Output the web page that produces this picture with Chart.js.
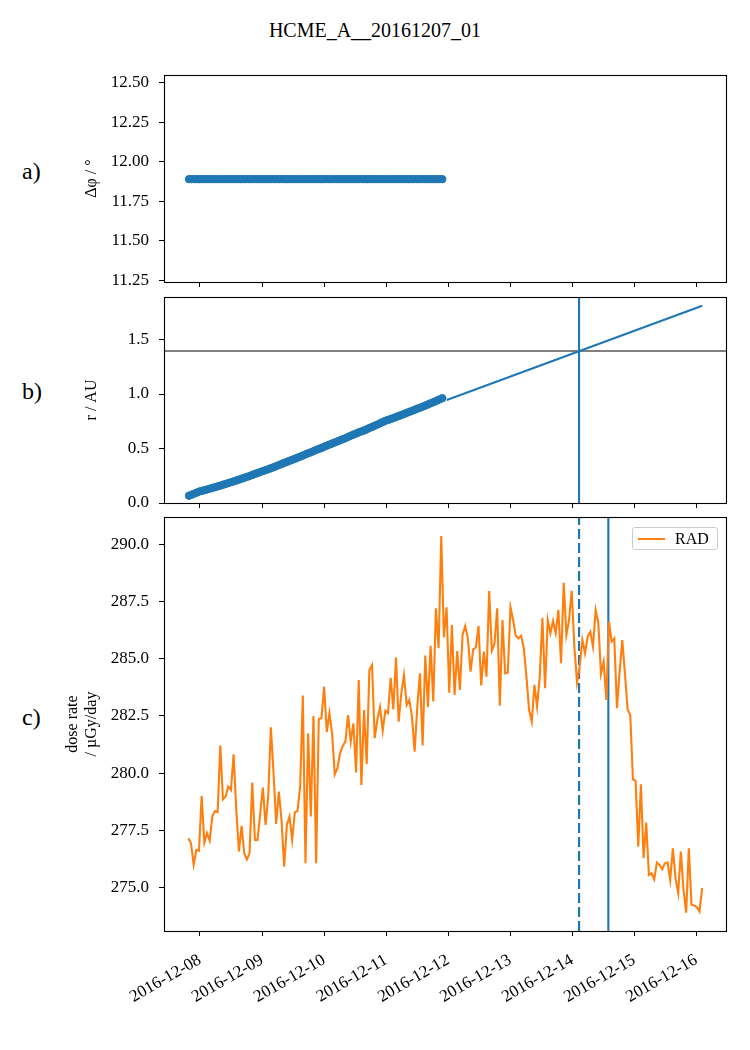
<!DOCTYPE html>
<html>
<head>
<meta charset="utf-8">
<script src="https://cdn.jsdelivr.net/npm/chart.js@4.4.1/dist/chart.umd.min.js"></script>
<style>
body { margin: 0; background: #fff; }
#fig { position: relative; width: 750px; height: 1050px; background: #fff; font-family: 'Liberation Serif', serif; color: #000; overflow: hidden; }
#fig canvas { position: absolute; left: 0; }
.title { position: absolute; left: 0; top: 18px; width: 750px; text-align: center; font-size: 20px; line-height: 24px; }
.plabel { position: absolute; left: 22px; font-size: 24px; line-height: 24px; }
#legend { position: absolute; left: 632px; top: 527px; width: 84px; height: 21px; border: 1px solid #cccccc; border-radius: 3px; background: rgba(255,255,255,0.8); font-size: 16px; }
#legend .swatch { position: absolute; left: 5px; top: 10px; width: 27px; height: 2px; }
#legend .txt { position: absolute; left: 42px; top: 1px; line-height: 19px; }
</style>
</head>
<body>
<div id="fig">
  <div class="title">HCME_A__20161207_01</div>
  <div class="plabel" style="top:159px">a)</div>
  <div class="plabel" style="top:379px">b)</div>
  <div class="plabel" style="top:705px">c)</div>
  <canvas id="chartA" width="750" height="249" style="top:54px"></canvas>
  <canvas id="chartB" width="750" height="248" style="top:276px"></canvas>
  <canvas id="chartC" width="750" height="554" style="top:496px"></canvas>
  <div id="legend"></div>
</div>
<script>
// time axis: days since 2016-12-08 00:00 UTC
var dayTicks = [0, 1, 2, 3, 4, 5, 6, 7, 8];
var tickLabels = ["2016-12-08", "2016-12-09", "2016-12-10", "2016-12-11", "2016-12-12",
                  "2016-12-13", "2016-12-14", "2016-12-15", "2016-12-16"];
var xMin = -0.58, xMax = 8.48;

// panel a / b: tracked CME front, one point every hour
var pointStart = "2016-12-07T19:45";
var pointStepHours = 1;
var dphi = [11.89, 11.89, 11.89, 11.89, 11.89, 11.89, 11.89, 11.89, 11.89, 11.89,
            11.89, 11.89, 11.89, 11.89, 11.89, 11.89, 11.89, 11.89, 11.89, 11.89,
            11.89, 11.89, 11.89, 11.89, 11.89, 11.89, 11.89, 11.89, 11.89, 11.89,
            11.89, 11.89, 11.89, 11.89, 11.89, 11.89, 11.89, 11.89, 11.89, 11.89,
            11.89, 11.89, 11.89, 11.89, 11.89, 11.89, 11.89, 11.89, 11.89, 11.89,
            11.89, 11.89, 11.89, 11.89, 11.89, 11.89, 11.89, 11.89, 11.89, 11.89,
            11.89, 11.89, 11.89, 11.89, 11.89, 11.89, 11.89, 11.89, 11.89, 11.89,
            11.89, 11.89, 11.89, 11.89, 11.89, 11.89, 11.89, 11.89, 11.89, 11.89,
            11.89, 11.89, 11.89, 11.89, 11.89, 11.89, 11.89, 11.89, 11.89, 11.89,
            11.89, 11.89, 11.89, 11.89, 11.89, 11.89, 11.89, 11.89, 11.89];
var rAU = [0.067, 0.076, 0.086, 0.095, 0.105, 0.111, 0.118, 0.124, 0.131, 0.138,
           0.145, 0.152, 0.159, 0.166, 0.174, 0.181, 0.189, 0.196, 0.204, 0.212,
           0.220, 0.228, 0.236, 0.244, 0.253, 0.262, 0.271, 0.279, 0.288, 0.296,
           0.304, 0.313, 0.322, 0.331, 0.341, 0.350, 0.360, 0.369, 0.378, 0.388,
           0.397, 0.406, 0.416, 0.425, 0.435, 0.445, 0.455, 0.464, 0.474, 0.484,
           0.494, 0.503, 0.513, 0.523, 0.533, 0.542, 0.552, 0.561, 0.571, 0.580,
           0.590, 0.600, 0.611, 0.621, 0.631, 0.641, 0.651, 0.659, 0.668, 0.679,
           0.690, 0.700, 0.710, 0.721, 0.732, 0.743, 0.754, 0.762, 0.770, 0.779,
           0.788, 0.797, 0.806, 0.815, 0.825, 0.834, 0.843, 0.852, 0.862, 0.871,
           0.880, 0.890, 0.900, 0.910, 0.920, 0.930, 0.940, 0.951, 0.962];
var aTicks = [11.25, 11.50, 11.75, 12.00, 12.25, 12.50];
var bTicks = [0.0, 0.5, 1.0, 1.5];

// extrapolated front and target distance
var fitTimes = ["2016-12-11T23:30", "2016-12-16T02:20"];
var fitR = [0.945, 1.81];
var targetR = 1.395;
var predictedArrival = "2016-12-14T02:40";
var observedArrival = "2016-12-14T14:00";

// panel c: RAD dose rate
var radStart = "2016-12-07T19:30";
var radStepHours = 1.03;
var radDose = [
  277.16, 276.94, 276.00, 276.65, 276.62, 279.01, 276.97, 277.38, 277.06, 278.11,
  278.35, 278.30, 281.21, 278.86, 278.98, 279.42, 279.27, 280.83, 278.40, 276.58,
  277.70, 276.50, 276.24, 276.50, 279.59, 277.09, 277.09, 278.25, 279.37, 277.74,
  278.98, 282.01, 280.00, 277.79, 279.20, 277.96, 275.92, 277.74, 278.11, 277.09,
  278.30, 278.35, 279.42, 283.39, 276.07, 281.74, 278.11, 282.50, 276.07, 282.37,
  282.40, 283.78, 281.80, 282.62, 281.74, 279.95, 280.22, 280.87, 281.19, 281.38,
  282.54, 281.38, 282.18, 280.03, 284.07, 279.49, 282.76, 280.39, 284.51,
  284.73, 281.53, 282.33, 282.88, 281.86, 282.73, 282.62, 284.17, 282.79, 285.05,
  282.25, 283.49, 284.28, 282.98, 283.20, 282.47, 280.94, 282.91, 284.36, 281.21,
  285.14, 282.88, 285.56, 283.13, 287.20, 285.46, 290.36, 285.94, 287.25, 283.52,
  286.47, 283.42, 285.34, 283.64, 286.04, 286.43, 285.89, 284.44, 285.41, 285.49,
  286.43, 283.83, 285.31, 284.22, 287.96, 285.35, 285.65, 287.20, 282.95, 286.69,
  284.36, 284.39, 287.25, 286.69, 285.99, 285.89, 286.01, 285.46, 284.22, 282.76,
  282.25, 283.86, 282.91, 284.22, 286.79, 283.71, 286.69, 286.11, 286.65, 286.11,
  287.13, 284.80, 288.32, 286.04, 286.69, 287.97, 285.53, 283.96, 284.66, 285.82,
  285.24, 285.97, 286.18, 285.53, 287.13, 286.55, 284.34, 284.87, 283.20, 286.62,
  285.75, 285.89, 282.84, 284.44, 285.82, 284.36, 282.79, 282.54, 279.74, 279.66,
  276.79, 279.52, 276.29, 277.84, 275.56, 275.63, 275.37, 276.10, 276.00, 275.81,
  276.07, 276.11, 275.34, 276.72, 275.41, 274.76, 276.58, 274.90, 273.91, 276.72,
  274.25, 274.22, 274.15, 273.96, 274.98];
var cTicks = [275.0, 277.5, 280.0, 282.5, 285.0, 287.5, 290.0];

var blue = '#1f77b4', orange = '#ff7f0e', grey = '#808080';

Chart.defaults.font.family = "'Liberation Serif', serif";
Chart.defaults.font.size = 17;
Chart.defaults.color = '#000';

function toDay(s) {
    return (Date.parse(s + ':00Z') - Date.parse('2016-12-08T00:00:00Z')) / 864e5;
}

function series(start, stepHours, values) {
    var t0 = toDay(start);
    var out = [];
    for (var i = 0; i < values.length; i++) {
        out.push({x: t0 + i * stepHours / 24, y: values[i]});
    }
    return out;
}

function pairs(times, values) {
    var out = [];
    for (var i = 0; i < times.length; i++) out.push({x: toDay(times[i]), y: values[i]});
    return out;
}

// black box round the plot area, like matplotlib spines
var framePlugin = {
    id: 'frame',
    afterDraw: function (chart) {
        var a = chart.chartArea, ctx = chart.ctx;
        ctx.save();
        ctx.strokeStyle = '#000';
        ctx.lineWidth = 1.1;
        ctx.strokeRect(Math.round(a.left) + 0.5, Math.round(a.top) + 0.5,
                       Math.round(a.right - a.left), Math.round(a.bottom - a.top));
        ctx.restore();
    }
};

function xScale(showLabels, height) {
    return {
        type: 'linear', min: xMin, max: xMax,
        afterBuildTicks: function (s) { s.ticks = dayTicks.map(function (v) { return {value: v}; }); },
        afterFit: function (s) { s.height = height; },
        grid: {drawOnChartArea: false, drawTicks: true, tickLength: 5, color: '#000', lineWidth: 1},
        border: {display: true, color: '#000', width: 1},
        ticks: {
            display: showLabels, autoSkip: false, minRotation: 30, maxRotation: 30, padding: 14,
            callback: function (v, i) { return tickLabels[i]; }
        }
    };
}

function yScale(min, max, ticks, decimals, title, width) {
    return {
        min: min, max: max,
        afterBuildTicks: function (s) { s.ticks = ticks.map(function (v) { return {value: v}; }); },
        afterFit: function (s) { s.width = width; },
        grid: {drawOnChartArea: false, drawTicks: true, tickLength: 5, color: '#000', lineWidth: 1},
        border: {display: true, color: '#000', width: 1},
        ticks: {padding: 10, callback: function (v) { return v.toFixed(decimals); }},
        title: {display: true, text: title, padding: 0, font: {size: 16}}
    };
}

function baseOptions(padLeft, padTop) {
    return {
        responsive: false,
        animation: false,
        layout: {padding: {left: padLeft, right: 24, top: padTop, bottom: 0}},
        plugins: {legend: {display: false}, tooltip: {enabled: false}}
    };
}

function dotSet(values) {
    return {
        data: series(pointStart, pointStepHours, values),
        pointRadius: 3.7, pointBackgroundColor: blue,
        pointBorderColor: blue, pointBorderWidth: 1
    };
}

// a) angular offset
var optsA = baseOptions(82, 21);
optsA.scales = {x: xScale(false, 21), y: yScale(11.239, 12.549, aTicks, 2, 'Δφ / °', 82)};
new Chart(document.getElementById('chartA'), {
    type: 'scatter',
    data: {datasets: [dotSet(dphi)]},
    options: optsA,
    plugins: [framePlugin]
});

// b) distance
var bMin = 0, bMax = 1.89;
var optsB = baseOptions(82, 21);
optsB.scales = {x: xScale(false, 21), y: yScale(bMin, bMax, bTicks, 1, 'r / AU', 82)};
new Chart(document.getElementById('chartB'), {
    type: 'scatter',
    data: {
        datasets: [
            dotSet(rAU),
            {data: pairs(fitTimes, fitR), showLine: true, borderColor: blue, borderWidth: 2.1, pointRadius: 0},
            {data: [{x: xMin, y: targetR}, {x: xMax, y: targetR}], showLine: true, borderColor: grey, borderWidth: 2.1, pointRadius: 0},
            {data: [{x: toDay(predictedArrival), y: bMin}, {x: toDay(predictedArrival), y: bMax}], showLine: true, borderColor: blue, borderWidth: 2.1, pointRadius: 0}
        ]
    },
    options: optsB,
    plugins: [framePlugin]
});

// c) RAD dose rate
var cMin = 273.11, cMax = 291.19;
var optsC = baseOptions(63, 21);
optsC.scales = {x: xScale(true, 119), y: yScale(cMin, cMax, cTicks, 1, ['dose rate', '/ µGy/day'], 101)};
var chartC = new Chart(document.getElementById('chartC'), {
    type: 'scatter',
    data: {
        datasets: [
            {label: 'RAD', data: series(radStart, radStepHours, radDose), showLine: true, borderColor: orange, borderWidth: 2.1, pointRadius: 0},
            {data: [{x: toDay(predictedArrival), y: cMin}, {x: toDay(predictedArrival), y: cMax}], showLine: true, borderColor: blue, borderWidth: 2.2, borderDash: [10, 4], pointRadius: 0},
            {data: [{x: toDay(observedArrival), y: cMin}, {x: toDay(observedArrival), y: cMax}], showLine: true, borderColor: blue, borderWidth: 2.1, pointRadius: 0}
        ]
    },
    options: optsC,
    plugins: [framePlugin]
});

// legend box from the labelled dataset
var legend = document.getElementById('legend');
chartC.data.datasets.forEach(function (ds) {
    if (!ds.label) return;
    legend.innerHTML = '<div class="swatch" style="background:' + ds.borderColor + '"></div>' +
                       '<div class="txt">' + ds.label + '</div>';
});
</script>
</body>
</html>
